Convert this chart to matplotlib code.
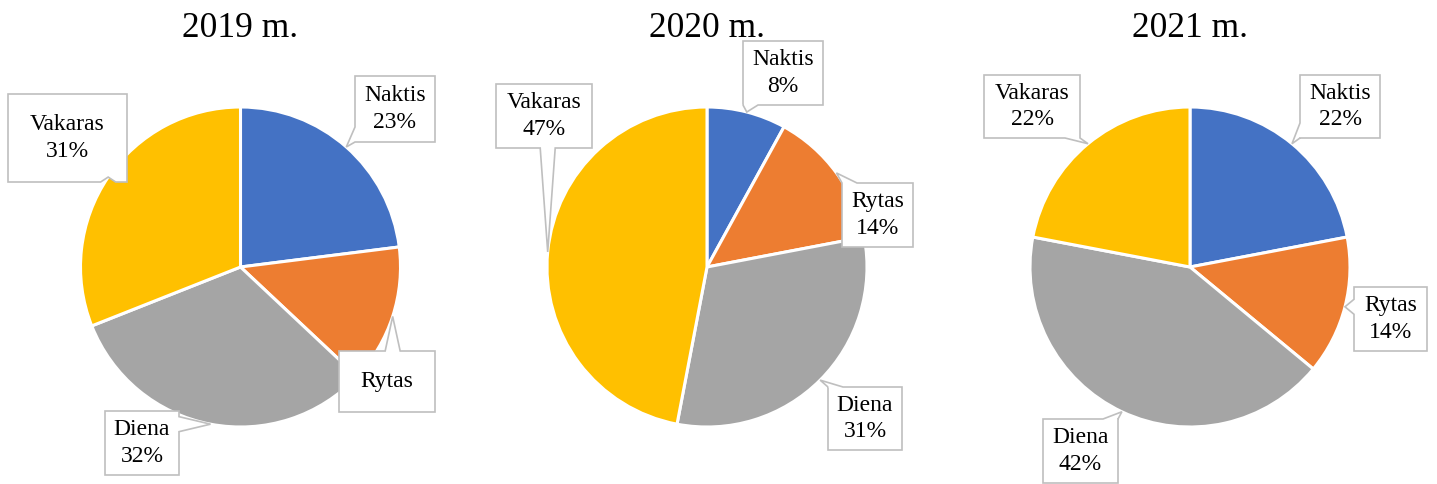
import matplotlib
matplotlib.use('Agg')
import matplotlib.pyplot as plt
import numpy as np
from matplotlib.patches import Polygon

plt.rcParams['font.family'] = ['Liberation Serif', 'DejaVu Serif']

# ---- data ----
categories = ['Naktis', 'Rytas', 'Diena', 'Vakaras']
titles = ['2019 m.', '2020 m.', '2021 m.']
values_2019 = [23, 14, 32, 31]
values_2020 = [8, 14, 31, 47]
values_2021 = [22, 14, 42, 22]
show_pct_2019 = [True, False, True, True]
show_pct_2020 = [True, True, True, True]
show_pct_2021 = [True, True, True, True]

all_values = [values_2019, values_2020, values_2021]
all_show = [show_pct_2019, show_pct_2020, show_pct_2021]

# ---- style / layout ----
colors = ['#4472C4', '#ED7D31', '#A5A5A5', '#FFC000']
box_edge = '#BFBFBF'
W, H = 1437, 484
centers_px = [(240.5, 267), (707, 267), (1190, 267)]
R = 160.0
title_baseline_px = 37
# label boxes: (center x, center y, width, height) in pixels
boxes_px = [
    [(395, 109, 80, 66), (387, 381.5, 96, 61), (142, 443, 74, 64), (67.5, 138, 119, 88)],
    [(783, 73, 80, 64), (877.5, 215, 71, 64), (865, 418.5, 74, 63), (544, 116, 96, 64)],
    [(1340, 106.5, 80, 63), (1390.5, 319, 73, 64), (1080.5, 451, 75, 64), (1032, 106.5, 96, 63)],
]

fig = plt.figure(figsize=(W / 100, H / 100), dpi=100)
S = 260.0


def callout(ax, box, tip, base_w):
    x0, y0, w, h = box
    xl, xr = x0 - w / 2, x0 + w / 2
    yb, yt = y0 - h / 2, y0 + h / 2
    tx, ty = tip
    dx = 0 if xl <= tx <= xr else (tx - xr if tx > xr else tx - xl)
    dy = 0 if yb <= ty <= yt else (ty - yt if ty > yt else ty - yb)
    if abs(dx) / w > abs(dy) / h:
        side = 'right' if dx > 0 else 'left'
    else:
        side = 'top' if dy > 0 else 'bottom'
    if side in ('bottom', 'top'):
        c = np.clip(tx, xl + base_w / 2, xr - base_w / 2)
        if side == 'bottom':
            pts = [(xl, yb), (c - base_w / 2, yb), (tx, ty), (c + base_w / 2, yb), (xr, yb), (xr, yt), (xl, yt)]
        else:
            pts = [(xl, yb), (xr, yb), (xr, yt), (c + base_w / 2, yt), (tx, ty), (c - base_w / 2, yt), (xl, yt)]
    else:
        c = np.clip(ty, yb + base_w / 2, yt - base_w / 2)
        if side == 'right':
            pts = [(xl, yb), (xr, yb), (xr, c - base_w / 2), (tx, ty), (xr, c + base_w / 2), (xr, yt), (xl, yt)]
        else:
            pts = [(xl, yb), (xr, yb), (xr, yt), (xl, yt), (xl, c + base_w / 2), (tx, ty), (xl, c - base_w / 2)]
    poly = Polygon(pts, closed=True, facecolor='white', edgecolor=box_edge,
                   linewidth=1.2, zorder=5, clip_on=False, joinstyle='miter')
    ax.add_patch(poly)


for i in range(3):
    cx, cy = centers_px[i]
    ax = fig.add_axes([(cx - S) / W, (H - cy - S) / H, 2 * S / W, 2 * S / H])
    wedges, _ = ax.pie(all_values[i], colors=colors, startangle=90, counterclock=False,
                       wedgeprops=dict(edgecolor='white', linewidth=2.2))
    ax.set_xlim(-S / R, S / R)
    ax.set_ylim(-S / R, S / R)
    ax.set_aspect('equal')
    ax.axis('off')
    ax.patch.set_visible(False)

    ax.text(0, (cy - title_baseline_px) / R, titles[i], ha='center', va='baseline',
            fontsize=25.5, color='black', clip_on=False)

    total = sum(all_values[i])
    for j, wdg in enumerate(wedges):
        mid = np.deg2rad((wdg.theta1 + wdg.theta2) / 2)
        tip = (np.cos(mid), np.sin(mid))
        bx, by, bw, bh = boxes_px[i][j]
        box = ((bx - cx) / R, (cy - by) / R, bw / R, bh / R)
        callout(ax, box, tip, 15 / R)
        pct = round(100 * all_values[i][j] / total)
        label = categories[j] + (f'\n{pct}%' if all_show[i][j] else '')
        ax.text(box[0], box[1], label, ha='center', va='center', fontsize=17,
                linespacing=1.32, zorder=6, clip_on=False)

fig.savefig('out.png', dpi=100, facecolor='white')
